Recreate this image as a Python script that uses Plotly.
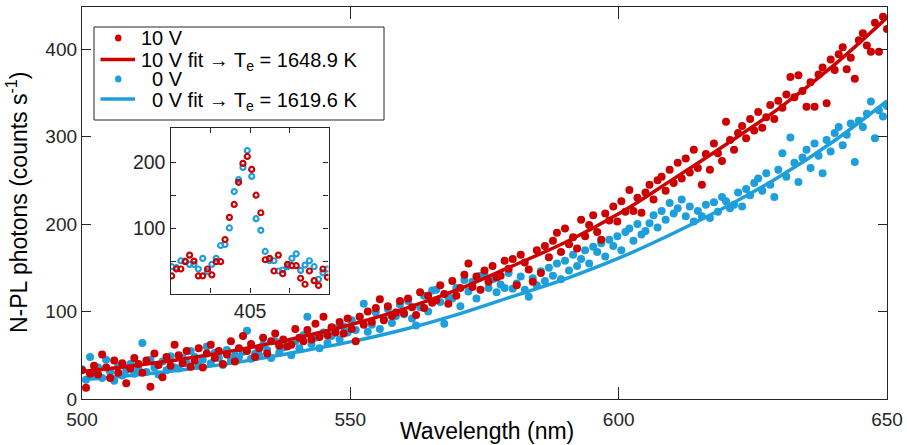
import plotly.graph_objects as go

# ---------------- data ----------------
wavelength = [
    500, 500.75, 501.5, 502.25, 503, 503.75, 504.5, 505.25, 506, 506.75, 507.5, 508.25,
    509, 509.75, 510.5, 511.25, 512, 512.75, 513.5, 514.25, 515, 515.75, 516.5, 517.25,
    518, 518.75, 519.5, 520.25, 521, 521.75, 522.5, 523.25, 524, 524.75, 525.5, 526.25,
    527, 527.75, 528.5, 529.25, 530, 530.75, 531.5, 532.25, 533, 533.75, 534.5, 535.25,
    536, 536.75, 537.5, 538.25, 539, 539.75, 540.5, 541.25, 542, 542.75, 543.5, 544.25,
    545, 545.75, 546.5, 547.25, 548, 548.75, 549.5, 550.25, 551, 551.75, 552.5, 553.25,
    554, 554.75, 555.5, 556.25, 557, 557.75, 558.5, 559.25, 560, 560.75, 561.5, 562.25,
    563, 563.75, 564.5, 565.25, 566, 566.75, 567.5, 568.25, 569, 569.75, 570.5, 571.25,
    572, 572.75, 573.5, 574.25, 575, 575.75, 576.5, 577.25, 578, 578.75, 579.5, 580.25,
    581, 581.75, 582.5, 583.25, 584, 584.75, 585.5, 586.25, 587, 587.75, 588.5, 589.25,
    590, 590.75, 591.5, 592.25, 593, 593.75, 594.5, 595.25, 596, 596.75, 597.5, 598.25,
    599, 599.75, 600.5, 601.25, 602, 602.75, 603.5, 604.25, 605, 605.75, 606.5, 607.25,
    608, 608.75, 609.5, 610.25, 611, 611.75, 612.5, 613.25, 614, 614.75, 615.5, 616.25,
    617, 617.75, 618.5, 619.25, 620, 620.75, 621.5, 622.25, 623, 623.75, 624.5, 625.25,
    626, 626.75, 627.5, 628.25, 629, 629.75, 630.5, 631.25, 632, 632.75, 633.5, 634.25,
    635, 635.75, 636.5, 637.25, 638, 638.75, 639.5, 640.25, 641, 641.75, 642.5, 643.25,
    644, 644.75, 645.5, 646.25, 647, 647.75, 648.5, 649.25, 650,
]

counts_10v = [
    33, 13, 29, 38, 28, 51, 36, 24, 44, 30, 41, 18,
    35, 47, 40, 30, 44, 14, 52, 39, 25, 48, 38, 62,
    50, 41, 55, 37, 44, 58, 36, 52, 62, 47, 55, 40,
    51, 66, 43, 58, 72, 55, 63, 48, 58, 70, 52, 66,
    75, 61, 68, 60, 62, 80, 70, 66, 79, 68, 86, 71,
    94, 73, 82, 76, 88, 75, 92, 80, 66, 94, 85, 100,
    88, 104, 114, 90, 106, 95, 99, 112, 98, 115, 105, 96,
    122, 104, 118, 110, 113, 130, 120, 109, 135, 118, 127, 142,
    155, 128, 140, 125, 147, 134, 152, 139, 141, 158, 149, 160,
    130, 165, 156, 148, 134, 170, 144, 175, 162, 181, 190, 168,
    195, 177, 185, 172, 205, 186, 199, 210, 191, 182, 212, 204,
    220, 203, 226, 214, 239, 215, 230, 213, 236, 245, 228, 250,
    254, 238, 262, 247, 270, 252, 275, 259, 285, 264, 245, 280,
    262, 292, 281, 272, 317, 296, 285, 304, 312, 298, 320, 307,
    328, 310, 322, 336, 320, 341, 333, 348, 368, 345, 370, 352,
    334, 362, 334, 371, 379, 338, 388, 376, 394, 402, 377, 390,
    366, 410, 418, 404, 397, 430, 397, 437, 423,
]

counts_0v = [
    34, 22, 48, 29, 36, 24, 45, 31, 21, 38, 27, 33,
    40, 29, 35, 64, 31, 45, 36, 28, 43, 33, 49, 36,
    35, 47, 41, 55, 48, 38, 45, 60, 41, 53, 47, 39,
    56, 44, 50, 48, 54, 78, 46, 52, 50, 62, 56, 47,
    66, 53, 59, 63, 50, 66, 58, 73, 94, 63, 70, 58,
    76, 64, 72, 81, 68, 83, 76, 90, 79, 94, 109, 77,
    85, 99, 80, 92, 103, 87, 95, 108, 97, 112, 92, 84,
    105, 118, 100, 124, 125, 111, 86, 117, 115, 127, 106, 136,
    123, 134, 115, 141, 142, 127, 137, 122, 131, 127, 144, 126,
    132, 140, 125, 117, 138, 130, 146, 135, 150, 141, 155, 137,
    158, 147, 165, 152, 160, 170, 155, 174, 168, 178, 163, 182,
    175, 186, 170, 191, 195, 181, 200, 188, 192, 201, 210, 196,
    215, 205, 224, 212, 218, 228, 209, 220, 203, 215, 209, 222,
    207, 225, 214, 231, 226, 218, 222, 236, 220, 240, 233, 247,
    252, 238, 258, 245, 231, 262, 281, 254, 299, 270, 248, 276,
    285, 264, 292, 278, 258, 296, 283, 304, 311, 290, 302, 315,
    271, 318, 311, 326, 340, 298, 330, 323, 335,
]

fit_wavelength = [500, 510, 520, 530, 540, 550, 560, 570, 580, 590, 600, 610, 620, 630, 640, 650]
fit_10v = [31.5, 38.4, 46.9, 57.3, 69.9, 84.9, 103.0, 125.0, 151.5, 178.8, 211.6, 250.7, 290.9, 332.8, 381.0, 436.0]
fit_0v = [22.0, 27.5, 34.4, 43.0, 53.7, 65.3, 79.5, 96.8, 116.8, 137.1, 160.9, 188.9, 219.7, 254.3, 294.3, 340.6]

inset_wavelength = [
    403.03, 403.15, 403.26, 403.37, 403.48, 403.59, 403.70, 403.81, 403.93, 404.04,
    404.15, 404.26, 404.37, 404.48, 404.60, 404.71, 404.82, 404.93, 405.04, 405.15,
    405.27, 405.38, 405.49, 405.60, 405.71, 405.82, 405.94, 406.05, 406.16, 406.27,
    406.38, 406.49, 406.61, 406.72, 406.83, 406.94,
]
inset_10v = [
    28.5, 39, 39, 50, 60, 51, 28.5, 28.5, 39, 30,
    50, 50, 83.5, 117, 136.5, 170, 198.5, 209, 189.5, 150.5,
    124, 53, 55, 36, 60, 32, 46, 44, 44, 25,
    16, 36, 21.5, 14, 39, 26.5,
]
inset_0v = [
    42.5, 41, 51.5, 51, 46, 46, 39, 55, 35, 46,
    55, 74.5, 76, 101, 156, 174, 192.5, 218, 179, 115,
    97.5, 65.5, 51.5, 51.5, 36, 37.5, 42.5, 55, 62, 37,
    45, 51.5, 42.5, 23.5, 33.5, 39,
]

x_ticks = [500, 550, 600, 650]
y_ticks = [0, 100, 200, 300, 400]
inset_x_ticks = [405]
inset_x_minor = [404, 406]
inset_y_ticks = [100, 200]
inset_y_minor = [50, 150]

x_title = "Wavelength (nm)"
y_title = "N-PL photons (counts s<sup>-1</sup>)"
legend_labels = [
    "10 V",
    "10 V fit \u2192 T<sub>e</sub> = 1648.9 K",
    "0 V",
    "0 V fit \u2192 T<sub>e</sub> = 1619.6 K",
]

# ---------------- style ----------------
RED = "#CC0000"
BLUE = "#1E9FDB"
AX = "#262626"
FONT = "Liberation Sans, Arial, Helvetica, sans-serif"

W, H = 907, 445
ML, MR, MT, MB = 82, 20, 7, 46
PW, PH = W - ML - MR, H - MT - MB


def px(xp):
    return (xp - ML) / PW


def py(yp):
    return (H - MB - yp) / PH


fig = go.Figure()

fig.add_trace(go.Scatter(x=wavelength, y=counts_0v, mode="markers", showlegend=False,
                         marker=dict(color=BLUE, size=8)))
fig.add_trace(go.Scatter(x=fit_wavelength, y=fit_0v, mode="lines", line_shape="spline", showlegend=False,
                         line=dict(color=BLUE, width=3.5)))
fig.add_trace(go.Scatter(x=wavelength, y=counts_10v, mode="markers", showlegend=False,
                         marker=dict(color=RED, size=8)))
fig.add_trace(go.Scatter(x=fit_wavelength, y=fit_10v, mode="lines", line_shape="spline", showlegend=False,
                         line=dict(color=RED, width=3.5)))

# inset
fig.add_trace(go.Scatter(x=inset_wavelength, y=inset_0v, mode="markers", xaxis="x2", yaxis="y2",
                         showlegend=False,
                         marker=dict(symbol="circle-open", color=BLUE, size=5, line=dict(width=2.2, color=BLUE))))
fig.add_trace(go.Scatter(x=inset_wavelength, y=inset_10v, mode="markers", xaxis="x2", yaxis="y2",
                         showlegend=False,
                         marker=dict(symbol="circle-open", color=RED, size=5, line=dict(width=2.2, color=RED))))


def axis_style(size):
    return dict(showline=True, linecolor=AX, linewidth=1.3, mirror="ticks", ticks="inside",
                tickcolor=AX, tickwidth=1.3, showgrid=False, zeroline=False, automargin=False,
                tickfont=dict(family=FONT, size=size, color=AX))


# ---- hand-drawn legend (box, symbols, labels) ----
shapes = [
    dict(type="rect", xref="paper", yref="paper", x0=px(94), x1=px(384), y0=py(120), y1=py(27),
         fillcolor="white", line=dict(color=AX, width=1), layer="above"),
]
row_y = [38, 59.5, 79, 99]
row_color = [RED, RED, BLUE, BLUE]
row_kind = ["dot", "line", "dot", "line"]
for yy, cc, kk in zip(row_y, row_color, row_kind):
    if kk == "dot":
        shapes.append(dict(type="circle", xref="paper", yref="paper",
                           x0=px(115), x1=px(121.5), y0=py(yy + 3.5), y1=py(yy - 3.5),
                           fillcolor=cc, line=dict(color=cc, width=0), layer="above"))
    else:
        shapes.append(dict(type="line", xref="paper", yref="paper",
                           x0=px(100.5), x1=px(135), y0=py(yy), y1=py(yy),
                           line=dict(color=cc, width=3.5), layer="above"))

annotations = []
text_x = [139, 139, 150, 150]
text_dy = [0, 2.5, 0, 2.5]
for lab, yy, xx, dy in zip(legend_labels, row_y, text_x, text_dy):
    annotations.append(dict(text=lab, xref="paper", yref="paper", x=px(xx), y=py(yy + dy),
                            xanchor="left", yanchor="middle", showarrow=False,
                            font=dict(family=FONT, size=20, color="black")))

# axis titles
annotations.append(dict(text=x_title, xref="paper", yref="paper", x=px(487), y=py(431),
                        xanchor="center", yanchor="middle", showarrow=False,
                        font=dict(family=FONT, size=23, color="black")))
annotations.append(dict(text=y_title, xref="paper", yref="paper", x=px(17), y=py(203),
                        xanchor="center", yanchor="middle", showarrow=False, textangle=-90,
                        font=dict(family=FONT, size=23, color="black")))

fig.update_layout(
    width=W, height=H,
    margin=dict(l=ML, r=MR, t=MT, b=MB),
    paper_bgcolor="white", plot_bgcolor="white",
    font=dict(family=FONT, color=AX),
    showlegend=False,
    xaxis=dict(range=[500, 650], tickvals=x_ticks, ticklen=12, ticklabelstandoff=3, **axis_style(19)),
    yaxis=dict(range=[0, 448], tickvals=y_ticks, ticklen=9, **axis_style(19)),
    xaxis2=dict(domain=[px(170.5), px(328.5)], anchor="y2", range=[403.0, 406.97],
                tickvals=inset_x_ticks, ticklen=5,
                minor=dict(tickvals=inset_x_minor, ticks="inside", ticklen=5, tickcolor=AX, tickwidth=1.3),
                **axis_style(19.5)),
    yaxis2=dict(domain=[py(293.5), py(128)], anchor="x2", range=[2, 252],
                tickvals=inset_y_ticks, ticklen=5,
                minor=dict(tickvals=inset_y_minor, ticks="inside", ticklen=5, tickcolor=AX, tickwidth=1.3),
                **axis_style(19.5)),
    shapes=shapes,
    annotations=annotations,
)

fig.write_html("out.html", config={"displayModeBar": False},
               post_script="document.body.style.margin='0px';document.body.style.padding='0px';")
